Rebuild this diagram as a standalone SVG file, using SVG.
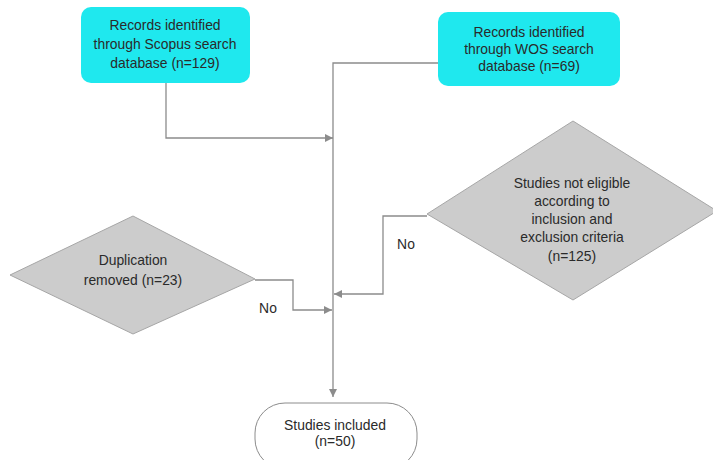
<svg xmlns="http://www.w3.org/2000/svg" width="713" height="460" viewBox="0 0 713 460">
<defs>
<style>
.box{fill:#1fe8ee;stroke:none}
.dia{fill:#cccccc;stroke:#a6a6a6;stroke-width:1}
.term{fill:#ffffff;stroke:#8c8c8c;stroke-width:1}
.t{font-family:"Liberation Sans",Arial,sans-serif;font-size:13.9px;fill:#2a2a2a;text-anchor:middle}
.c{fill:none;stroke:#8c8c8c;stroke-width:1.3}
</style>
<marker id="ah" viewBox="0 0 10 10" refX="10" refY="5" markerWidth="8" markerHeight="8" markerUnits="userSpaceOnUse" orient="auto">
<path d="M0,0 L10,5 L0,10 z" fill="#8c8c8c"/>
</marker>
</defs>
<rect width="713" height="460" fill="#ffffff"/>
<g id="connectors">
<path class="c" d="M166,83 V138 H333" marker-end="url(#ah)"/>
<path class="c" d="M438,63 H333 V397" marker-end="url(#ah)"/>
<path class="c" d="M427,216 H383 V294 H334" marker-end="url(#ah)"/>
<path class="c" d="M255,280 H293 V310 H332" marker-end="url(#ah)"/>
</g>
<g id="scopus">
<rect class="box" x="81" y="7" width="169" height="76" rx="10"/>
<text class="t" x="165" y="30">Records identified</text>
<text class="t" x="165" y="49">through Scopus search</text>
<text class="t" x="165" y="68">database (n=129)</text>
</g>
<g id="wos">
<rect class="box" x="438" y="12" width="182" height="74" rx="10"/>
<text class="t" x="529" y="37">Records identified</text>
<text class="t" x="529" y="54">through WOS search</text>
<text class="t" x="529" y="71">database (n=69)</text>
</g>
<g id="not-eligible">
<polygon class="dia" points="573,121 717,211 573,300 427,214"/>
<text class="t" x="572" y="188">Studies not eligible</text>
<text class="t" x="572" y="206">according to</text>
<text class="t" x="572" y="224">inclusion and</text>
<text class="t" x="572" y="242">exclusion criteria</text>
<text class="t" x="572" y="261">(n=125)</text>
</g>
<g id="duplication">
<polygon class="dia" points="10,275 133,216 255,279 133,334"/>
<text class="t" x="133" y="265">Duplication</text>
<text class="t" x="133" y="285">removed (n=23)</text>
</g>
<g id="labels">
<text class="t" x="268" y="313">No</text>
<text class="t" x="406" y="249">No</text>
</g>
<g id="included">
<rect class="term" x="255" y="403" width="162" height="66" rx="30"/>
<text class="t" x="335" y="430">Studies included</text>
<text class="t" x="335" y="446">(n=50)</text>
</g>
</svg>
